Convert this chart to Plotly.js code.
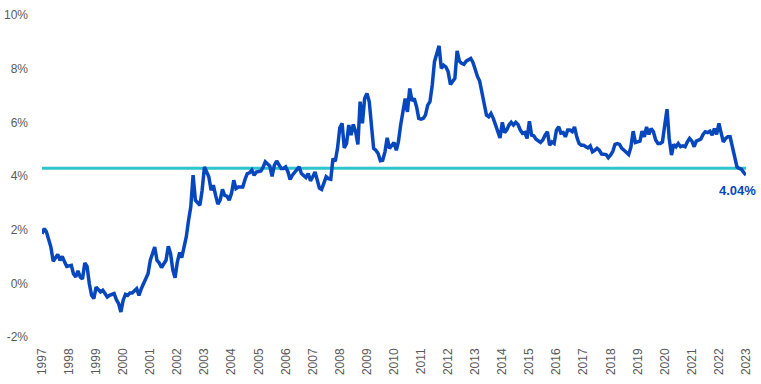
<!DOCTYPE html>
<html>
<head>
<meta charset="utf-8">
<script src="https://cdn.plot.ly/plotly-3.0.1.min.js"></script>
<style>html,body{margin:0;padding:0;background:#fff;}#chart{width:761px;height:384px;}</style>
</head>
<body>
<div id="chart"></div>
<script>
const months = [
'1997-01','1997-02','1997-03','1997-05','1997-06','1997-08','1997-09','1997-10','1997-11','1997-12',
'1998-02','1998-03','1998-04','1998-05','1998-06','1998-07','1998-08','1998-09','1998-10','1998-11','1998-12',
'1999-01','1999-03','1999-04','1999-05','1999-06','1999-07','1999-09','1999-10','1999-11','1999-12',
'2000-01','2000-02','2000-03','2000-04','2000-05','2000-07','2000-08','2000-09','2000-10','2000-11','2000-12',
'2001-01','2001-03','2001-04','2001-05','2001-06','2001-08','2001-09','2001-10','2001-11','2001-12',
'2002-01','2002-02','2002-03','2002-04','2002-05','2002-06','2002-07','2002-08','2002-09','2002-11','2002-12',
'2003-01','2003-03','2003-04','2003-05','2003-06','2003-07','2003-08','2003-09','2003-10','2003-11','2003-12',
'2004-01','2004-02','2004-03','2004-04','2004-06','2004-07','2004-08','2004-09','2004-10','2004-11','2004-12',
'2005-02','2005-03','2005-04','2005-05','2005-06','2005-07','2005-08','2005-09','2005-10','2005-11','2005-12',
'2006-01','2006-02','2006-03','2006-04','2006-05','2006-06','2006-07','2006-08','2006-10','2006-11','2006-12',
'2007-01','2007-02','2007-03','2007-04','2007-05','2007-06','2007-07','2007-08','2007-09','2007-10','2007-11','2007-12',
'2008-01','2008-02','2008-03','2008-04','2008-05','2008-06','2008-07','2008-08','2008-09','2008-10','2008-11','2008-12',
'2009-01','2009-02','2009-03','2009-04','2009-05','2009-06','2009-07','2009-08','2009-09','2009-10','2009-11','2009-12',
'2010-01','2010-02','2010-03','2010-04','2010-05','2010-06','2010-07','2010-08','2010-09','2010-10','2010-11','2010-12',
'2011-01','2011-02','2011-03','2011-04','2011-05','2011-06','2011-07','2011-08','2011-09','2011-10','2011-11','2011-12',
'2012-01','2012-02','2012-04','2012-05','2012-06','2012-07','2012-08','2012-09','2012-11','2012-12',
'2013-01','2013-02','2013-03','2013-04','2013-05','2013-06','2013-07','2013-08','2013-09','2013-10','2013-11','2013-12',
'2014-01','2014-02','2014-03','2014-04','2014-05','2014-06','2014-07','2014-08','2014-09','2014-10','2014-11','2014-12',
'2015-01','2015-02','2015-03','2015-04','2015-06','2015-07','2015-08','2015-09','2015-10','2015-11','2015-12',
'2016-01','2016-02','2016-03','2016-04','2016-05','2016-06','2016-07','2016-08','2016-09','2016-10','2016-11','2016-12',
'2017-01','2017-02','2017-03','2017-04','2017-05','2017-06','2017-07','2017-08','2017-09','2017-11','2017-12',
'2018-01','2018-02','2018-03','2018-04','2018-05','2018-06','2018-07','2018-09','2018-10','2018-11','2018-12',
'2019-01','2019-02','2019-03','2019-04','2019-05','2019-06','2019-07','2019-08','2019-09','2019-10','2019-11','2019-12',
'2020-01','2020-02','2020-03','2020-04','2020-05','2020-06','2020-07','2020-08','2020-09','2020-10','2020-11','2020-12',
'2021-01','2021-02','2021-03','2021-05','2021-06','2021-07','2021-08','2021-09','2021-10','2021-11','2021-12',
'2022-01','2022-02','2022-03','2022-04','2022-05','2022-06','2022-07','2022-08','2022-09','2022-10','2022-11','2022-12',
'2023-01'
];
const rates = [
1.85,2.04,1.92,1.35,0.82,1.08,0.86,1.0,0.8,0.63,
0.67,0.36,0.24,0.46,0.24,0.16,0.76,0.63,-0.01,-0.45,-0.57,
-0.14,-0.32,-0.26,-0.38,-0.51,-0.45,-0.38,-0.61,-0.76,-1.07,
-0.63,-0.41,-0.45,-0.36,-0.36,-0.2,-0.45,-0.2,-0.01,0.24,0.36,
0.86,1.35,0.86,0.76,0.59,0.86,1.38,1.11,0.49,0.21,
0.8,1.15,0.96,1.4,1.73,2.35,2.85,4.03,3.1,2.91,3.47,
4.34,3.97,3.47,3.66,3.28,2.95,3.1,3.5,3.28,3.25,3.1,
3.35,3.84,3.53,3.59,3.59,3.87,4.09,4.12,4.22,4.03,4.15,
4.19,4.32,4.53,4.44,4.37,3.99,4.4,4.56,4.44,4.28,4.28,
4.34,4.15,3.87,4.03,4.15,4.24,4.34,4.09,3.94,4.09,3.82,
3.97,4.15,3.87,3.55,3.5,3.78,3.97,3.9,3.88,4.65,4.55,5.03,
5.8,5.96,5.05,5.21,5.9,5.52,5.92,5.65,5.18,6.77,5.96,6.89,
7.08,6.77,6.02,5.03,4.96,4.84,4.57,4.59,4.9,5.42,5.03,5.15,
5.25,4.96,5.27,5.9,6.42,6.89,6.39,7.26,6.8,6.89,6.58,6.15,
6.12,6.15,6.27,6.64,6.77,7.39,8.26,8.51,8.85,8.01,8.13,8.07,
7.89,7.41,7.64,8.66,8.28,8.2,8.16,8.28,8.38,8.23,
7.92,7.7,7.54,7.08,6.58,6.27,6.21,6.33,6.15,5.9,5.65,5.42,
6.0,5.62,5.71,5.9,6.0,5.9,6.0,5.92,5.71,5.59,5.62,5.4,
6.04,5.52,5.5,5.37,5.25,5.34,5.52,5.65,5.15,5.27,5.21,
5.71,5.83,5.6,5.62,5.46,5.71,5.71,5.65,5.83,5.46,5.21,5.15,
5.15,5.09,5.05,5.12,4.9,4.96,5.03,4.96,4.82,4.8,4.68,
4.78,4.93,5.18,5.21,5.18,5.03,4.96,4.8,5.07,5.67,5.25,
5.27,5.3,5.67,5.46,5.83,5.55,5.77,5.65,5.34,5.21,5.21,5.27,
5.9,6.49,5.4,4.78,5.18,5.09,5.21,5.09,5.12,5.09,5.27,5.4,
5.3,5.09,5.3,5.37,5.55,5.65,5.62,5.67,5.52,5.77,5.55,
5.96,5.59,5.27,5.4,5.46,5.46,5.09,4.65,4.34,4.28,4.25,4.13,
4.04
];
const averageDates = ['1997-01-01','2023-01-01'];
const averageValue = [4.29, 4.29];
const lastLabel = '4.04%';
const yTickValues = [-2, 0, 2, 4, 6, 8, 10];
const yTickLabels = ['-2%', '0%', '2%', '4%', '6%', '8%', '10%'];

const blue = '#0747BE';
const cyan = '#2CC5CC';

const traces = [
  {x: averageDates, y: averageValue, type: 'scatter', mode: 'lines',
   line: {color: cyan, width: 3}, hoverinfo: 'skip', showlegend: false},
  {x: months, y: rates, type: 'scatter', mode: 'lines',
   line: {color: blue, width: 3.5, shape: 'linear'}, showlegend: false}
];

const layout = {
  width: 761, height: 384,
  margin: {l: 42, r: 15, t: 15, b: 47},
  paper_bgcolor: '#ffffff', plot_bgcolor: '#ffffff',
  font: {family: 'Liberation Sans, Arial, sans-serif', size: 12, color: '#595959'},
  xaxis: {
    type: 'date', range: ['1997-01-01', '2023-01-01'],
    tick0: '1997-01-01', dtick: 'M12', tickformat: '%Y', tickangle: -90,
    showgrid: false, zeroline: false, showline: false, ticks: '',
    ticklabelstandoff: 8,
    tickfont: {size: 12, color: '#595959'}
  },
  yaxis: {
    range: [-2, 10], tickmode: 'array', tickvals: yTickValues, ticktext: yTickLabels,
    showgrid: false, zeroline: false, showline: false, ticks: '',
    ticklabelstandoff: 13,
    tickfont: {size: 12, color: '#595959'}
  },
  annotations: [{
    x: months[months.length - 1], y: rates[rates.length - 1],
    text: '<b>' + lastLabel + '</b>', showarrow: false,
    xanchor: 'center', yanchor: 'middle', xshift: -9, yshift: -16,
    font: {size: 13, color: blue, family: 'Liberation Sans, Arial, sans-serif'}
  }]
};

Plotly.newPlot('chart', traces, layout, {displayModeBar: false, staticPlot: true});
</script>
</body>
</html>
